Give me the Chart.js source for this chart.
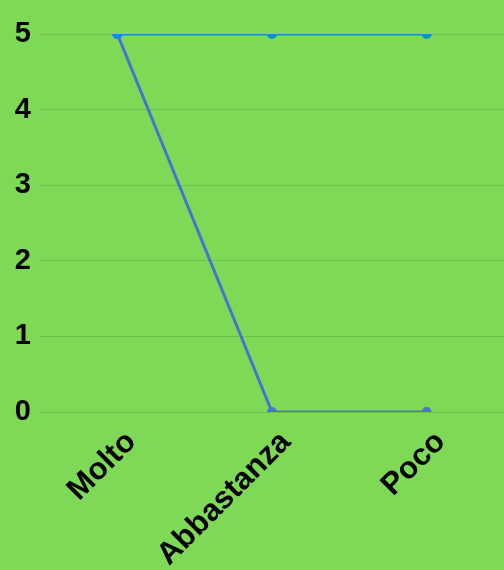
<!DOCTYPE html>
<html><head><meta charset="utf-8">
<script src="https://cdn.jsdelivr.net/npm/chart.js@4/dist/chart.umd.min.js"></script>
<style>html,body{margin:0;padding:0;background:#7ed957;}#wrap{width:504px;height:570px;}</style>
</head><body><div id="wrap"><canvas id="c" width="504" height="570"></canvas></div>
<script>
const categories = ["Molto", "Abbastanza", "Poco"];
const seriesA = [5, 5, 5];
const seriesB = [5, 0, 0];
const yTicks = [0, 1, 2, 3, 4, 5];

const noPad = () => ({left:0, top:0, right:0, bottom:0});
const bgPlugin = {id:'bg', beforeDraw(c){const x=c.ctx;x.save();x.fillStyle='#7ed957';x.fillRect(0,0,c.width,c.height);x.restore();}};
new Chart(document.getElementById('c'), {
  type: 'line',
  data: {
    labels: categories,
    datasets: [
      {data: seriesA, borderColor:'#0b8fdc', backgroundColor:'#0b8fdc', borderWidth:3, pointRadius:3.5, pointHoverRadius:3.5, tension:0, order:0},
      {data: seriesB, borderColor:'#4a72cf', backgroundColor:'#4a72cf', borderWidth:3, pointRadius:3.5, pointHoverRadius:3.5, tension:0, order:1}
    ]
  },
  options: {
    responsive:false, animation:false,
    layout:{autoPadding:false, padding:{top:34, right:0, left:0, bottom:0}},
    plugins:{legend:{display:false}, tooltip:{enabled:false}},
    scales:{
      x:{offset:true, grid:{display:false}, border:{display:false},
         afterFit(s){s.height=158; s.getPadding=noPad;},
         ticks:{color:'#000', font:{family:'Liberation Sans', size:31, weight:'bold'}, maxRotation:45, minRotation:45, padding:4, labelOffset:14}},
      y:{min:0, max:5, grid:{color:'#6cc24c', lineWidth:1, drawTicks:false}, border:{display:false},
         afterFit(s){s.width=40; s.getPadding=noPad;},
         afterBuildTicks(s){s.ticks=yTicks.map(v=>({value:v}));},
         ticks:{color:'#000', font:{family:'Liberation Sans', size:29, weight:'bold'}, padding:9}}
    }
  },
  plugins:[bgPlugin]
});
</script></body></html>
